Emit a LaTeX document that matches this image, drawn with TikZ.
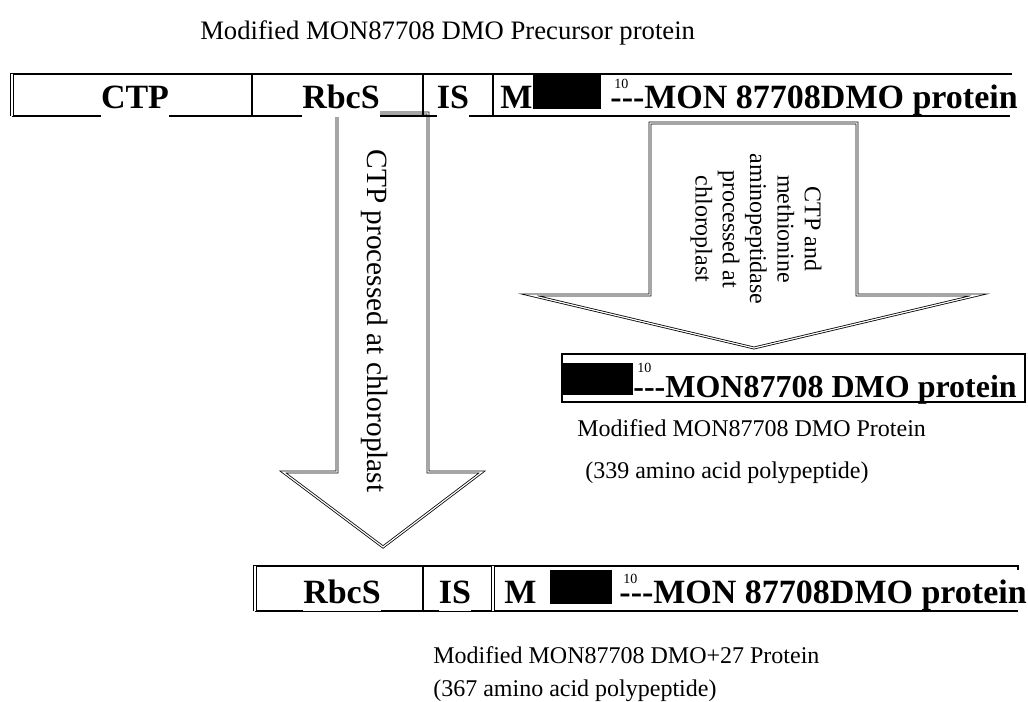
\documentclass[tikz,border=0pt]{standalone}
\usepackage{fontspec}
\setmainfont{Liberation Serif}
\usepackage{tikz}
\usetikzlibrary{positioning}

\newcommand{\segfont}{\fontsize{25.5pt}{30pt}\selectfont\bfseries}
\newcommand{\labfont}{\fontsize{18pt}{22pt}\selectfont}
% residue mark above the first dash
\newcommand{\tenmark}[1]{\rlap{\hspace{3pt}\raisebox{#1}{\normalfont\fontsize{10.5pt}{12pt}\selectfont 10}}}

\begin{document}
\begin{tikzpicture}[x=0.75pt, y=-0.75pt,
    edge/.style={line width=1.4pt},
    thinedge/.style={line width=0.9pt},
    twin/.style={double, double distance=1.2pt, line width=0.8pt},
    blockarrow/.style={draw, double, double distance=0.9pt, line width=0.6pt, fill=white},
    segtext/.style={font=\segfont, inner sep=0pt, anchor=base},
    seg/.style={segtext, fill=white, text depth=6pt},
    plain/.style={font=\labfont, anchor=base west, inner sep=0pt}]

    \useasboundingbox (0,0) rectangle (1028,702);

    \node[anchor=base west, inner sep=0pt, font=\fontsize{20pt}{24pt}\selectfont] (title) at (200,40) {Modified MON87708 DMO Precursor protein};

    % block arrows
    \draw[blockarrow] (337,113) -- (337,472) -- (283,472) -- (383,547) -- (482,472) -- (428,472) -- (428,113) -- cycle;
    \node[rotate=-90, font=\fontsize{22pt}{26pt}\selectfont] (cut1) at (375,321) {CTP processed at chloroplast};
    \draw[blockarrow] (650,123) -- (650,295) -- (530,295) -- (754,348) -- (978,295) -- (857,295) -- (857,123) -- cycle;
    \node[rotate=-90, align=center, font=\fontsize{18pt}{20.5pt}\selectfont] (cut2) at (756,229) {CTP and\\methionine\\aminopeptidase\\processed at\\chloroplast};

    % precursor bar
    \draw[edge] (10,74) -- (1012,74);
    \draw[thinedge] (12,116) -- (1010,116);
    \draw[twin] (12,74) -- (12,116);
    \foreach \x in {252,423,493} \draw[edge] (\x,74) -- (\x,116);
    \node[seg] (ctp) at (135,109) {CTP};
    \node[seg] (rbcs) at (341,109) {RbcS};
    \node[seg] (is) at (453,109) {IS};
    \node[segtext, anchor=base west] (m) at (500,109) {M};
    \fill (533,75) rectangle (601,109);
    \node[segtext, anchor=base east] (dmo) at (1018,109) {\tenmark{15pt}-{}-{}-MON 87708DMO protein};

    % mature protein
    \draw[line width=1.5pt] (562,354) rectangle (1025,402);
    \fill (562,363) rectangle (633,395);
    \node[segtext, font=\fontsize{24pt}{28pt}\selectfont\bfseries, anchor=base east] (dmo2) at (1017,397) {\tenmark{18pt}-{}-{}-MON87708 DMO protein};
    \node[plain] (lab1) at (577,436) {Modified MON87708 DMO Protein};
    \node[plain] (lab2) at (585,478) {(339 amino acid polypeptide)};

    % DMO+27 bar
    \draw[edge] (253,566) -- (1018,566) -- (1018,570);
    \draw[thinedge] (255,611) -- (1018,611);
    \draw[twin] (255,566) -- (255,611);
    \draw[edge] (423,566) -- (423,611);
    \draw[twin] (493,566) -- (493,611);
    \node[seg] (rbcs2) at (342,603) {RbcS};
    \node[seg] (is2) at (455,603) {IS};
    \node[segtext, anchor=base west] (m2) at (504,603) {M};
    \fill (550,570) rectangle (612,604);
    \node[segtext, anchor=base east] (dmo3) at (1027,603) {\tenmark{15pt}-{}-{}-MON 87708DMO protein};
    \node[plain] (lab3) at (433,663) {Modified MON87708 DMO+27 Protein};
    \node[plain] (lab4) at (433,696) {(367 amino acid polypeptide)};
\end{tikzpicture}
\end{document}
